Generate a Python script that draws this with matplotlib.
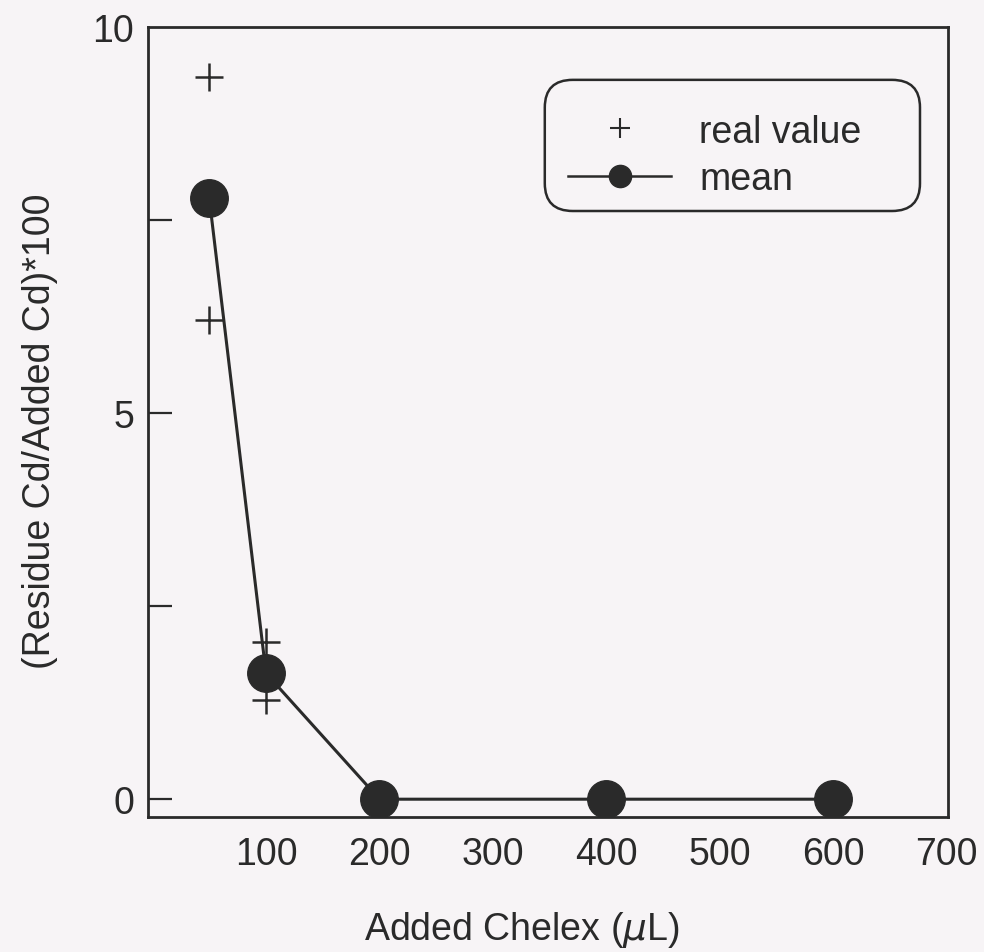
import matplotlib
matplotlib.use("Agg")
import matplotlib.pyplot as plt
from matplotlib.lines import Line2D
from matplotlib.patches import FancyBboxPatch

# data
chelex = [50, 100, 200, 400, 600]
mean_val = [7.78, 1.63, 0.0, 0.0, 0.0]
real_x = [50, 50, 100, 100, 200, 400, 600]
real_y = [9.35, 6.2, 2.03, 1.29, 0.0, 0.0, 0.0]

x_ticks = [100, 200, 300, 400, 500, 600, 700]
x_minor = [100, 300, 500]
y_ticks = [0, 5, 10]
y_minor = [2.5, 7.5]

ink = "#2a2a2a"
paper = "#f7f4f6"

plt.rcParams['font.family'] = ['Liberation Sans', 'DejaVu Sans']

fig = plt.figure(figsize=(9.84, 9.53), dpi=100, facecolor=paper)
ax = fig.add_axes([0.1504, 0.1417, 0.8130, 0.8290])
ax.set_facecolor(paper)

ax.plot(chelex, mean_val, color=ink, lw=2.2, marker='o', ms=27,
        mfc=ink, mec=ink, zorder=3)
ax.plot(real_x, real_y, ls='none', marker='+', ms=20, mew=1.8,
        color=ink, zorder=4)

ax.set_xlim(-4, 701)
ax.set_ylim(-0.23, 10.0)

ax.set_xticks(x_ticks)
ax.set_xticklabels([str(v) for v in x_ticks])
ax.set_xticks(x_minor, minor=True)
ax.tick_params(axis='x', which='major', length=0, pad=14,
               labelsize=27, labelcolor=ink)
ax.tick_params(axis='x', which='minor', direction='in', length=13,
               width=1.6, color=ink)

ax.set_yticks(y_ticks)
ax.set_yticklabels([str(v) for v in y_ticks])
ax.set_yticks(y_minor, minor=True)
ax.tick_params(axis='y', which='both', direction='in', length=17,
               width=1.6, color=ink, pad=10, labelsize=27, labelcolor=ink)
ax.yaxis.get_major_ticks()[-1].tick1line.set_visible(False)

for s in ax.spines.values():
    s.set_linewidth(2)
    s.set_color(ink)

ax.set_xlabel(r"Added Chelex ($\mathit{\mu}$L)", fontsize=27, color=ink)
ax.xaxis.set_label_coords(0.467, -0.117)
ax.set_ylabel("(Residue Cd/Added Cd)*100", fontsize=27, color=ink)
ax.yaxis.set_label_coords(-0.113, 0.49)

# legend with rounded frame
box = FancyBboxPatch((0.496, 0.767), 0.469, 0.166,
                     boxstyle="round,pad=0,rounding_size=0.035",
                     transform=ax.transAxes, fc=paper, ec=ink, lw=1.8,
                     zorder=5)
ax.add_patch(box)
h1 = Line2D([], [], ls='none', marker='+', ms=15, mew=1.5, color=ink)
h2 = Line2D([], [], color=ink, lw=1.8, marker='o', ms=16, mfc=ink, mec=ink)
leg = ax.legend([h1, h2], ["real value", "mean"], loc='upper left',
                bbox_to_anchor=(0.483, 0.933), frameon=False, fontsize=27,
                handlelength=2.75, handletextpad=0.75, labelspacing=0.3,
                labelcolor=ink)
leg.set_zorder(6)

fig.savefig("out.png", dpi=100, facecolor=paper)
